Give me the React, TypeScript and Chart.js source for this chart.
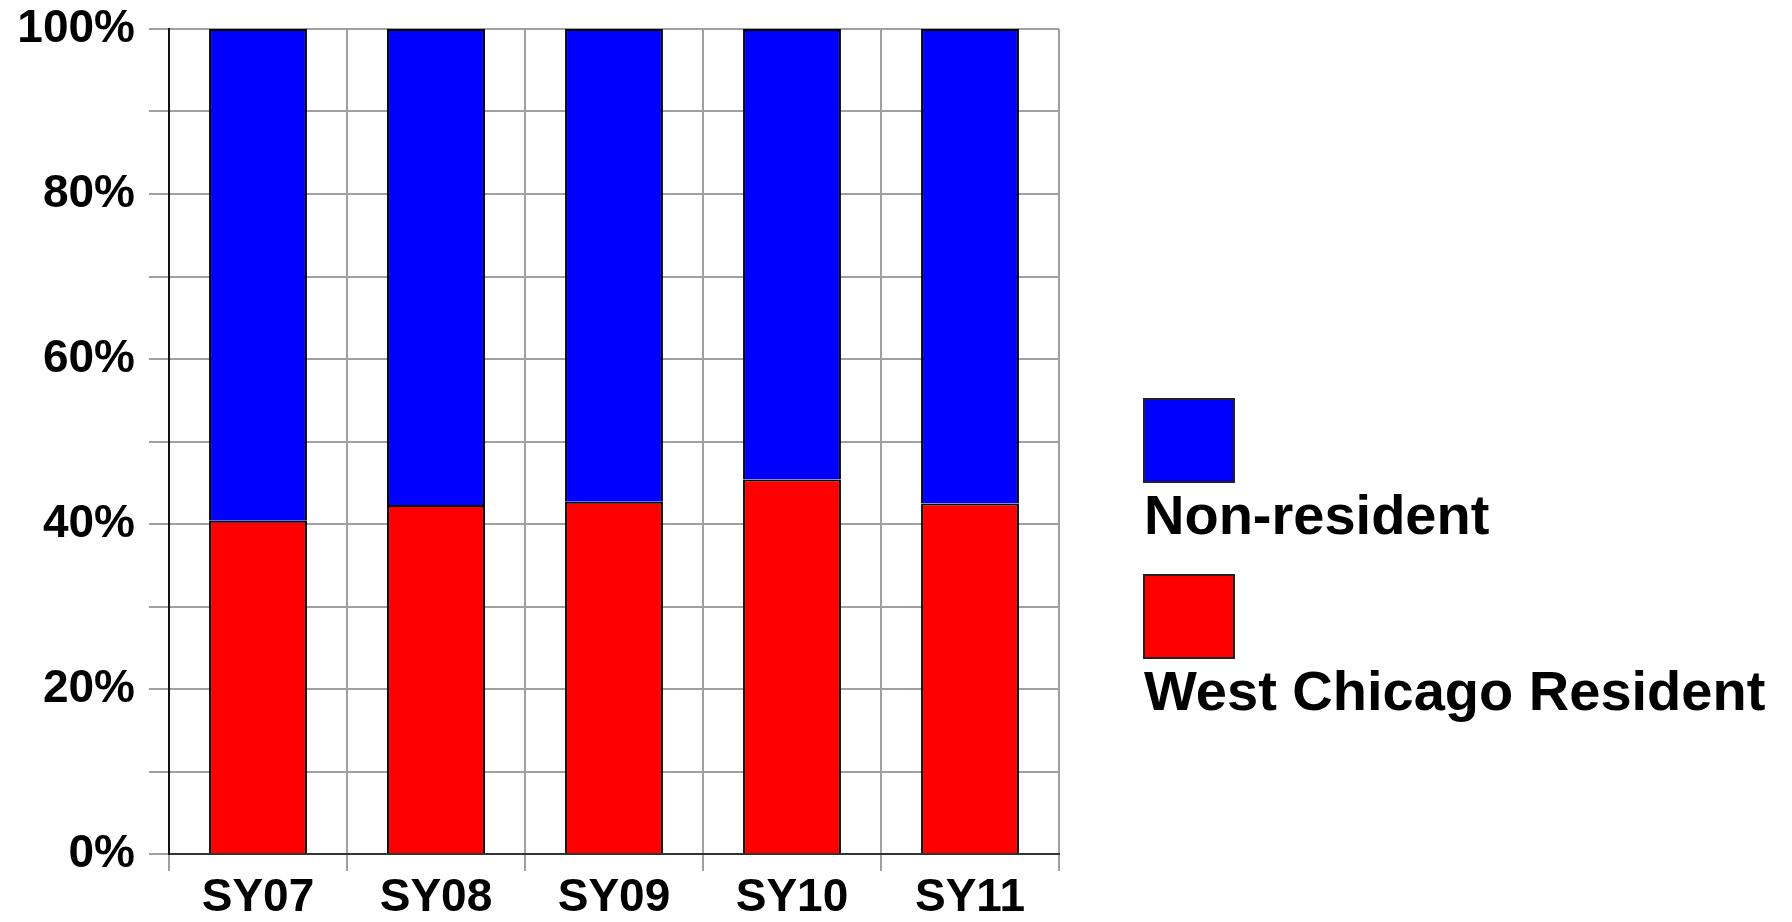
import React, { useEffect, useRef } from "react";
import { Chart, registerables } from "chart.js";

Chart.register(...registerables);

const categories = ["SY07", "SY08", "SY09", "SY10", "SY11"];
const westChicagoResident = [40.4, 42.3, 42.7, 45.4, 42.5];
const nonResident = [59.6, 57.7, 57.3, 54.6, 57.5];
const seriesNames = ["West Chicago Resident", "Non-resident"];
const seriesColors = ["#ff0000", "#0000ff"];

const FONT = "Arial, 'Liberation Sans', sans-serif";

const legendPlugin = {
  id: "stackedLegend",
  afterDraw(chart: any) {
    const ctx = chart.ctx;
    const ds = chart.data.datasets;
    // legend lists top series first
    const order = [1, 0];
    const x = 1144;
    const boxW = 90;
    const boxH = 83;
    const startY = 399;
    const step = 176;
    ctx.save();
    order.forEach((di, i) => {
      const y = startY + i * step;
      ctx.fillStyle = ds[di].backgroundColor;
      ctx.fillRect(x, y, boxW, boxH);
      ctx.strokeStyle = "#222";
      ctx.lineWidth = 2;
      ctx.strokeRect(x, y, boxW, boxH);
      ctx.fillStyle = "#000";
      ctx.font = `bold 56px ${FONT}`;
      ctx.textAlign = "left";
      ctx.textBaseline = "alphabetic";
      ctx.fillText(ds[di].label, x, y + 135);
    });
    ctx.restore();
  },
};

export default function App() {
  const canvasRef = useRef<HTMLCanvasElement | null>(null);

  useEffect(() => {
    if (!canvasRef.current) return;
    const chart = new Chart(canvasRef.current, {
      type: "bar",
      data: {
        labels: categories,
        datasets: [
          {
            label: seriesNames[0],
            data: westChicagoResident,
            backgroundColor: seriesColors[0],
            borderColor: "#000",
            borderWidth: 2,
            categoryPercentage: 1,
            barPercentage: 0.55,
          },
          {
            label: seriesNames[1],
            data: nonResident,
            backgroundColor: seriesColors[1],
            borderColor: "#000",
            borderWidth: 2,
            categoryPercentage: 1,
            barPercentage: 0.55,
          },
        ],
      },
      options: {
        responsive: false,
        animation: false,
        layout: { padding: { left: 0, right: 733, top: 29, bottom: 0 } },
        plugins: {
          legend: { display: false },
          tooltip: { enabled: false },
        },
        scales: {
          x: {
            stacked: true,
            offset: true,
            grid: {
              offset: true,
              color: "#a0a0a0",
              lineWidth: 2,
              tickLength: 17,
              tickColor: "#a0a0a0",
            },
            border: { color: "#333", width: 2 },
            ticks: {
              color: "#000",
              padding: 0,
              font: { family: FONT, size: 46, weight: "bold" },
            },
            afterFit(scale: any) {
              scale.height = 68;
              scale.paddingLeft = 0;
              scale.paddingRight = 0;
            },
          },
          y: {
            stacked: true,
            min: 0,
            max: 100,
            grid: {
              color: "#a0a0a0",
              lineWidth: 2,
              tickLength: 20,
              tickColor: "#a0a0a0",
            },
            border: { color: "#111", width: 2 },
            ticks: {
              stepSize: 10,
              color: "#000",
              padding: 14,
              font: { family: FONT, size: 46, weight: "bold" },
              callback: (v: any) => (Number(v) % 20 === 0 ? `${v}%` : ""),
            },
            afterFit(scale: any) {
              scale.width = 169;
              scale.paddingTop = 0;
              scale.paddingBottom = 0;
            },
          },
        },
      },
      plugins: [legendPlugin],
    });
    return () => chart.destroy();
  }, []);

  return (
    <div
      style={{
        position: "absolute",
        left: 0,
        top: 0,
        width: 1792,
        height: 922,
        background: "#fff",
      }}
    >
      <canvas ref={canvasRef} width={1792} height={922} />
    </div>
  );
}
